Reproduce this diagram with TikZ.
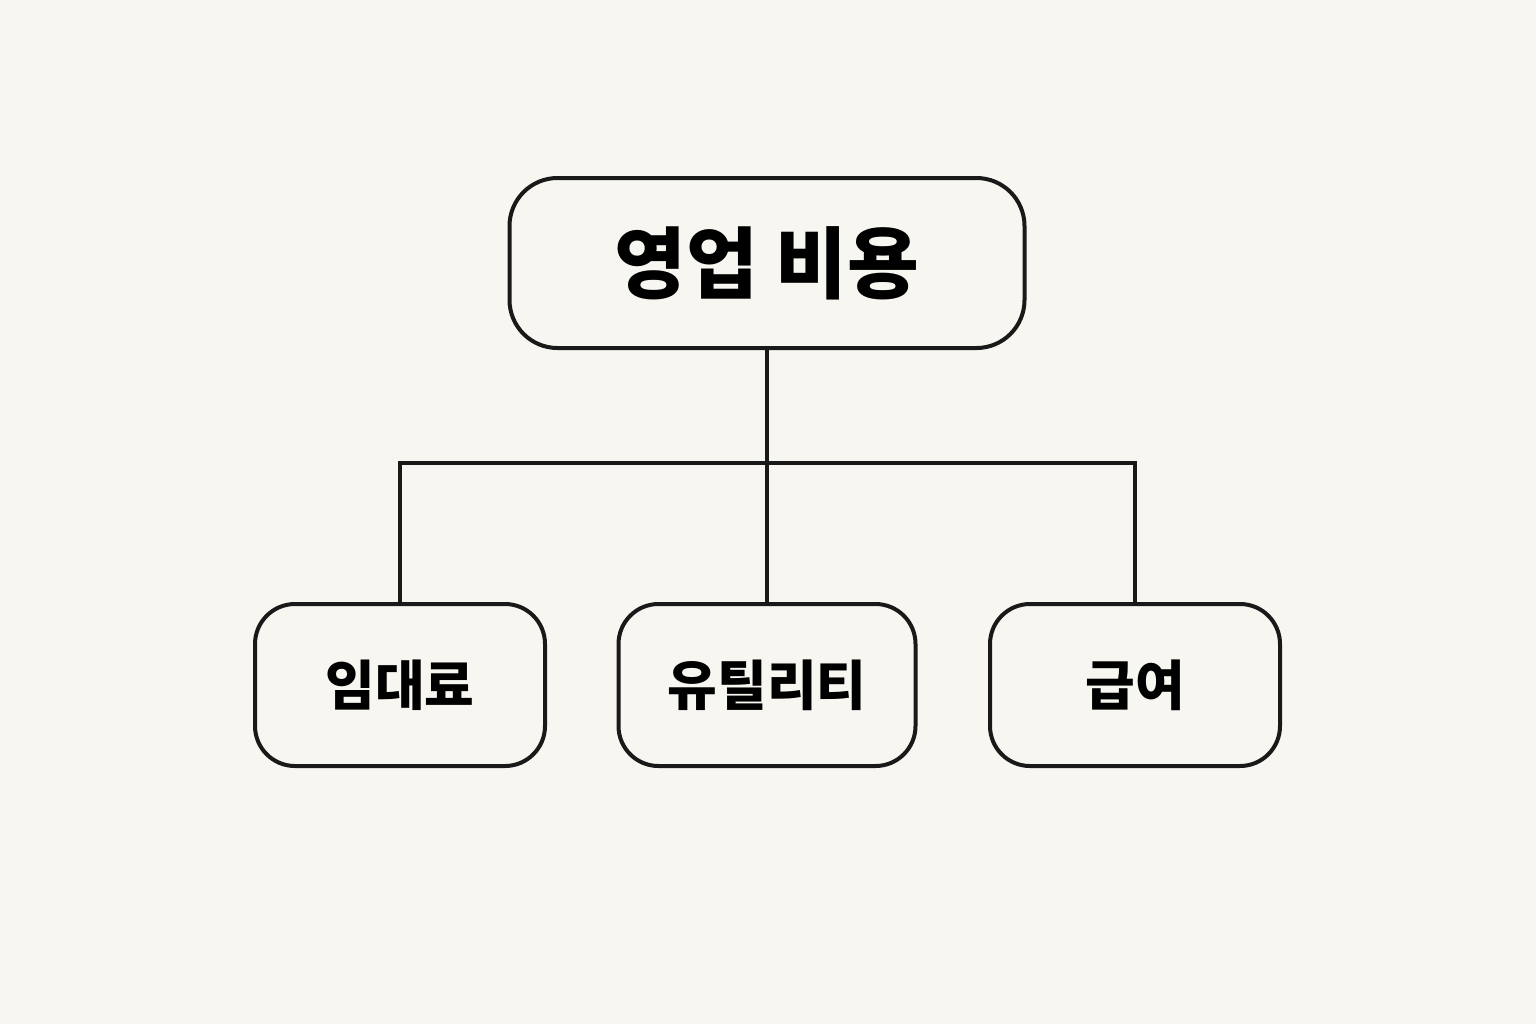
\documentclass[tikz,border=0pt]{standalone}
\usepackage{fontspec}
\setmainfont{Noto Sans CJK KR}
\begin{document}
\begin{tikzpicture}[x=0.5pt,y=-0.5pt,
  box/.style={draw=black!90,line width=2pt,rounded corners=20pt,fill=none},
  lbl/.style={font=\bfseries\fontsize{27}{30}\selectfont},
  conn/.style={draw=black!90,line width=2pt}]
\fill[fill={rgb,255:red,248;green,246;blue,241}] (0,0) rectangle (1536,1024);
\useasboundingbox (0,0) rectangle (1536,1024);
\node[box,minimum width=515*0.5pt,minimum height=170*0.5pt,rounded corners=24pt,font=\bfseries\fontsize{39}{42}\selectfont] (top) at (767,263) {영업 비용};
\node[box,lbl,minimum width=290*0.5pt,minimum height=162*0.5pt] (a) at (400,685) {임대료};
\node[box,lbl,minimum width=297*0.5pt,minimum height=162*0.5pt] (b) at (767,685) {유틸리티};
\node[box,lbl,minimum width=290*0.5pt,minimum height=162*0.5pt] (c) at (1135,685) {급여};
\coordinate (j) at (767,463);
\draw[conn] (top.south) -- (j);
\draw[conn] (a.north) -- (a.north |- j) -- (c.north |- j) -- (c.north);
\draw[conn] (j) -- (b.north);
\end{tikzpicture}
\end{document}
